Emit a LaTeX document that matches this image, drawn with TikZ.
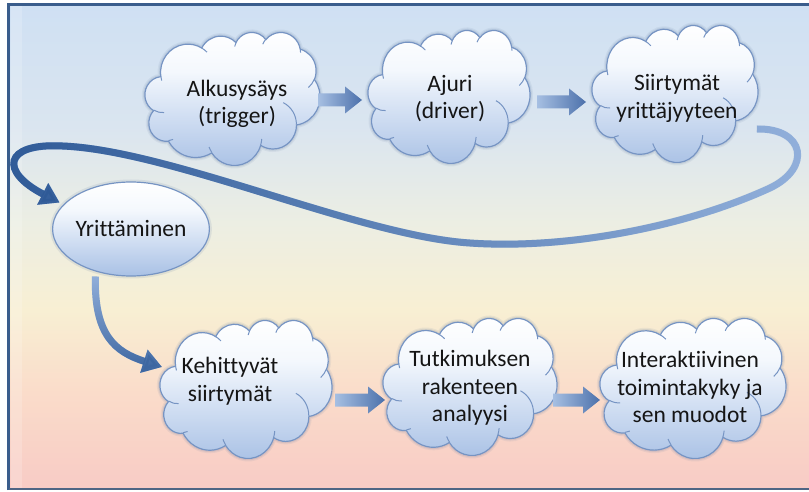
\documentclass[tikz,border=0pt]{standalone}
\usepackage{fontspec}
\setmainfont{Carlito}[Ligatures=NoCommon]
\usetikzlibrary{shapes.geometric,arrows.meta,fadings,calc}

% palette
\definecolor{frameblue}{HTML}{3A5D8C}
\definecolor{framegray}{HTML}{4E6584}
\definecolor{bg0}{HTML}{F8CBC5}
\definecolor{bg1}{HTML}{FADCCA}
\definecolor{bg2}{HTML}{F8EFD3}
\definecolor{bg3}{HTML}{ECEEE3}
\definecolor{bg4}{HTML}{DAE5F0}
\definecolor{bg5}{HTML}{CFE0F3}
\definecolor{puffB}{HTML}{A9C1E5}
\definecolor{puffM}{HTML}{D3E0F3}
\definecolor{puffT}{HTML}{F4F8FD}
\definecolor{puffline}{HTML}{7694C3}
\definecolor{glow}{HTML}{6A82A6}
\definecolor{arrlight}{HTML}{A6BFE2}
\definecolor{arrdark}{HTML}{4C71AB}
\definecolor{connlight}{HTML}{93B1DC}
\definecolor{conndark}{HTML}{2F5A97}
\definecolor{inkblack}{HTML}{151515}

% background: pink at the bottom, pale yellow in the middle, light blue on top
\pgfdeclareverticalshading{bgshade}{100bp}{color(0bp)=(bg0); color(25bp)=(bg0);
  color(35bp)=(bg1); color(43.5bp)=(bg2); color(52.5bp)=(bg3);
  color(62.5bp)=(bg4); color(75bp)=(bg5); color(100bp)=(bg5)}
% cloud and ellipse fill: white on top, blue at the bottom
\pgfdeclareverticalshading{puffshade}{100bp}{color(0bp)=(puffB); color(25bp)=(puffB);
  color(45bp)=(puffM); color(60bp)=(puffT); color(75bp)=(white); color(100bp)=(white)}

\tikzfading[name=fadetoright, left color=transparent!0, right color=transparent!100]
\tikzfading[name=fadetotop, bottom color=transparent!0, top color=transparent!100]

% cloud outline in a 100 x 100 box, y pointing down
\newcommand\puffoutline{(9.028,33.264)
 arc[start angle=172.25,end angle=300.36,x radius=15.632,y radius=21.273]
 arc[start angle=-152.03,end angle=-45.44,x radius=12.345,y radius=16.822]
 arc[start angle=-153.49,end angle=-37.32,x radius=10.104,y radius=13.762]
 arc[start angle=-139.70,end angle=-10.21,x radius=11.243,y radius=15.266]
 arc[start angle=-74.77,end angle=23.21,x radius=12.345,y radius=16.836]
 arc[start angle=-37.54,end angle=81.86,x radius=15.683,y radius=21.343]
 arc[start angle=0.46,end angle=121.98,x radius=13.391,y radius=18.211]
 arc[start angle=16.84,end angle=146.24,x radius=15.630,y radius=21.331]
 arc[start angle=58.98,end angle=150.20,x radius=17.870,y radius=24.405]
 arc[start angle=83.31,end angle=223.13,x radius=10.093,y radius=13.699]
 arc[start angle=120.36,end angle=264.11,x radius=10.058,y radius=13.762]
 -- cycle}
% the short inner strokes of the cloud
\newcommand\puffinner{
 (10.864,60.595) arc[start angle=85.55,end angle=120.36,x radius=10.058,y radius=13.762]
 (16.037,80.785) arc[start angle=68.24,end angle=83.31,x radius=10.093,y radius=13.699]
 (38.144,90.486) arc[start angle=146.24,end angle=158.48,x radius=15.630,y radius=21.331]
 (66.729,80.442) arc[start angle=4.74,end angle=16.84,x radius=15.630,y radius=21.331]
 (79.002,53.134) arc[start angle=-64.02,end angle=0.46,x radius=13.391,y radius=18.211]
 (96.755,35.542) arc[start angle=23.21,end angle=49.64,x radius=12.345,y radius=16.836]
 (88.713,12.560) arc[start angle=-10.21,end angle=0.82,x radius=11.243,y radius=15.266]
 (67.310,9.148) arc[start angle=-156.28,end angle=-139.70,x radius=11.243,y radius=15.266]
 (51.252,10.926) arc[start angle=-167.73,end angle=-153.49,x radius=10.104,y radius=13.762]
 (32.407,12.019) arc[start angle=-59.64,end angle=-45.75,x radius=15.632,y radius=21.273]
 (9.553,36.549) arc[start angle=163.19,end angle=172.25,x radius=15.632,y radius=21.273]}

% #1 name, #2 centre x, #3 centre y, #4 width, #5 height, #6/#7 text offset, #8 text
\newcommand\puffcloud[8]{%
 \pgfmathsetmacro\pcx{#4/100}\pgfmathsetmacro\pcy{#5/100}%
 \begin{scope}[shift={(#2-#4/2,#3-#5/2)}, x=\pcx pt, y=-\pcy pt]
  \draw[line width=6pt, draw=glow, draw opacity=0.10] \puffoutline;
  \draw[line width=3.5pt, draw=glow, draw opacity=0.16] \puffoutline;
  \shade[shading=puffshade, draw=puffline, line width=1.2pt] \puffoutline;
  \draw[puffline, line width=1pt] \puffinner;
 \end{scope}
 \node[cloudbox, minimum width=#4pt, minimum height=#5pt] (#1) at (#2,#3) {};
 \node[cloudtext] (#1-t) at ($(#1)+(#6,#7)$) {#8};
}

% wide block arrow between two points at the height of the first one
\newcommand\blockarrow[2]{%
 \shade[blockfill] let \p1=#1, \p2=#2 in
  (\x1,\y1+6.5pt) -- (\x2-17pt,\y1+6.5pt) -- (\x2-17pt,\y1+13.5pt) -- (\x2,\y1)
  -- (\x2-17pt,\y1-13.5pt) -- (\x2-17pt,\y1-6.5pt) -- (\x1,\y1-6.5pt) -- cycle;}

\tikzset{
 cloudbox/.style={rectangle, inner sep=0pt, outer sep=0pt},
 cloudtext/.style={align=center, font=\fontsize{23.5}{27.5}\selectfont, text=inkblack, inner sep=0pt},
 conn/.style={line width=7pt, -{Triangle[length=19pt,width=23pt]}},
 blockfill/.style={left color=arrlight, right color=arrdark},
}

\begin{document}
\begin{tikzpicture}[x=1pt,y=-1pt]
\useasboundingbox (0,0) rectangle (809,492);
\fill[white] (0,0) rectangle (809,492);

% panel background and frame
\shade[shading=bgshade] (8,5) rectangle (809,489);
\fill[white, opacity=0.18] (11,6) rectangle (22,488);
\draw[frameblue, line width=3pt] (8.5,490) -- (8.5,4.5) -- (809,4.5);
\draw[framegray, line width=2pt] (8.5,488.8) -- (809,488.8);

% top row
\puffcloud{c1}{232.5}{98.5}{175}{133}{4.5}{5.5}{Alkusysäys\\(trigger)}
\puffcloud{c2}{449}{96.5}{162}{133}{1}{2}{Ajuri\\(driver)}
\puffcloud{c3}{675}{93.5}{166}{137}{2}{5}{Siirtymät\\yrittäjyyteen}

% bottom row
\puffcloud{c4}{246}{389}{172}{138}{-16}{-8}{Kehittyvät\\siirtymät}
\puffcloud{c5}{470}{386.5}{174}{137}{0}{1.5}{Tutkimuksen\\rakenteen\\analyysi}
\puffcloud{c6}{693}{388}{186}{140}{-3}{-1}{Interaktiivinen\\toimintakyky ja\\sen muodot}

% ellipse
\node[ellipse, minimum width=152pt, minimum height=94pt, inner sep=0pt,
      shade, shading=puffshade, draw=puffline, line width=1.2pt,
      preaction={draw=glow, draw opacity=0.14, line width=5pt},
      cloudtext] (yri) at (131,229) {Yrittäminen};

% block arrows
\blockarrow{($(c1.east)+(-2,1.5)$)}{($(c2.west)+(-6,0)$)}
\blockarrow{($(c2.east)+(7,5.5)$)}{($(c3.west)+(-6,0)$)}
\blockarrow{($(c4.east)+(3,11)$)}{($(c5.west)+(2,0)$)}
\blockarrow{($(c5.east)+(-4,13.5)$)}{($(c6.west)+(0,0)$)}

% long loop from the third cloud back to the ellipse
\newcommand\looppath{($(c3.east)+(-1,35.5)$)
  .. controls (805,128) and (812,168) .. (770,188)
  .. controls (690,225) and (570,250) .. (470,243)
  .. controls (360,236) and (170,150) .. (62,146)
  .. controls (3,143) and (0,172) .. (yri.160)}
\draw[conn, connlight, shorten >=4pt] \looppath;
\draw[conn, conndark, shorten >=4pt, path fading=fadetoright] \looppath;

% from the ellipse down to the bottom row
\newcommand\droppath{($(yri.230)+(0,5)$)
  .. controls (94,335) and (115,352) .. ($(c4.west)+(2,-22)$)}
\draw[conn, connlight] \droppath;
\draw[conn, conndark!85!connlight, path fading=fadetotop] \droppath;
\end{tikzpicture}
\end{document}
